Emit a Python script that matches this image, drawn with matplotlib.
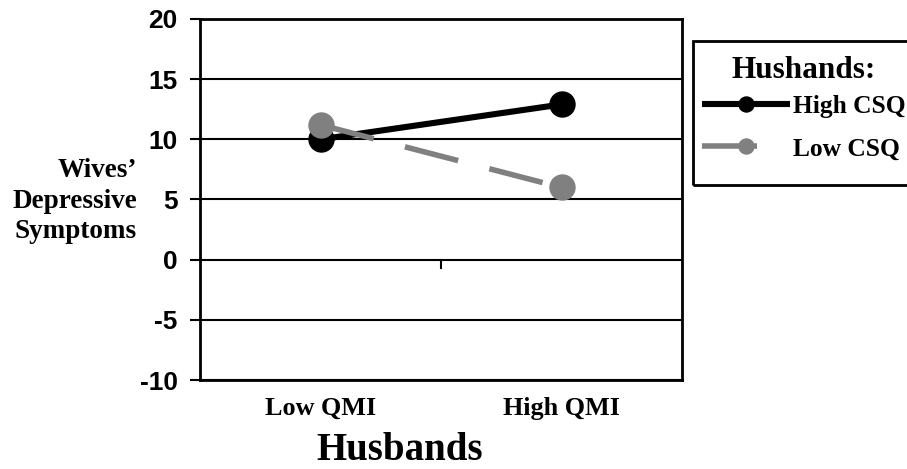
import matplotlib.pyplot as plt
import matplotlib.transforms as mtrans
from matplotlib.patches import Rectangle

# ── data ─────────────────────────────────────────────
categories = ['Low QMI', 'High QMI']
high_csq = [10.0, 12.9]
low_csq = [11.2, 6.0]
y_ticks = [-10, -5, 0, 5, 10, 15, 20]

W, H = 907, 469
fig = plt.figure(figsize=(W / 100, H / 100), dpi=100)
ax = fig.add_axes([200 / W, (H - 380) / H, (682 - 200) / W, (380 - 19) / H])

SERIF = ['Liberation Serif', 'DejaVu Serif']
SANS = ['Liberation Sans', 'DejaVu Sans']

xpos = [0.5, 1.5]
ax.plot(xpos, high_csq, '-o', color='black', lw=4.4, ms=18,
        solid_capstyle='butt', label='High CSQ', zorder=3)
ax.plot(xpos, low_csq, 'o', color='#808080', lw=4, ms=18,
        linestyle=(0, (9.9, 5.8)), label='Low CSQ', zorder=4)

ax.set_xlim(0, 2)
ax.set_ylim(-10, 20)
ax.set_yticks(y_ticks)
ax.set_yticklabels([str(v) for v in y_ticks], family=SANS, fontweight='bold', fontsize=19)
ax.tick_params(axis='y', direction='out', length=7, width=1.5, pad=9)
for v in y_ticks:
    ax.axhline(v, color='black', lw=1.5, zorder=1)

# category axis sits at y=0 with one divider tick in the middle
ax.set_xticks([])
ax.plot([1, 1], [0, -0.7], color='black', lw=1.5, clip_on=False, zorder=2)

for s in ax.spines.values():
    s.set_linewidth(2)
    s.set_color('black')

# category labels under the plot
lab_tr = ax.transData + mtrans.ScaledTranslation(0, -28 / 100, fig.dpi_scale_trans)
for x, lab in zip(xpos, categories):
    ax.text(x, -10, lab, transform=lab_tr, ha='center', va='center',
            family=SERIF, fontweight='bold', fontsize=18.8)

fig.text(400 / W, 1 - 450 / H, 'Husbands', ha='center', va='center',
         family=SERIF, fontweight='bold', fontsize=28)
fig.text(137 / W, 1 - 201 / H, 'Wives\u2019\nDepressive\nSymptoms', ha='right', va='center',
         family=SERIF, fontweight='bold', fontsize=19.5, linespacing=1.27)

# legend: own frame and title, rows from ax.legend
fig.patches.append(Rectangle((693 / W, 1 - 185 / H), 240 / W, 144 / H,
                             transform=fig.transFigure, fill=False,
                             edgecolor='black', lw=2, clip_on=False))
fig.text(804 / W, 1 - 70 / H, 'Hushands:', ha='center', va='center',
         family=SERIF, fontweight='bold', fontsize=22.5)
leg = ax.legend(loc='upper left', bbox_to_anchor=(702 / W, 1 - 95 / H),
                bbox_transform=fig.transFigure,
                prop={'family': SERIF, 'weight': 'bold', 'size': 18.4},
                markerscale=0.6, handlelength=3.45, handletextpad=0.1,
                frameon=False, borderpad=0, labelspacing=0.76, borderaxespad=0)
leg.get_lines()[1].set_linestyle((0, (9.9, 30)))

fig.savefig('out.png', dpi=100)
